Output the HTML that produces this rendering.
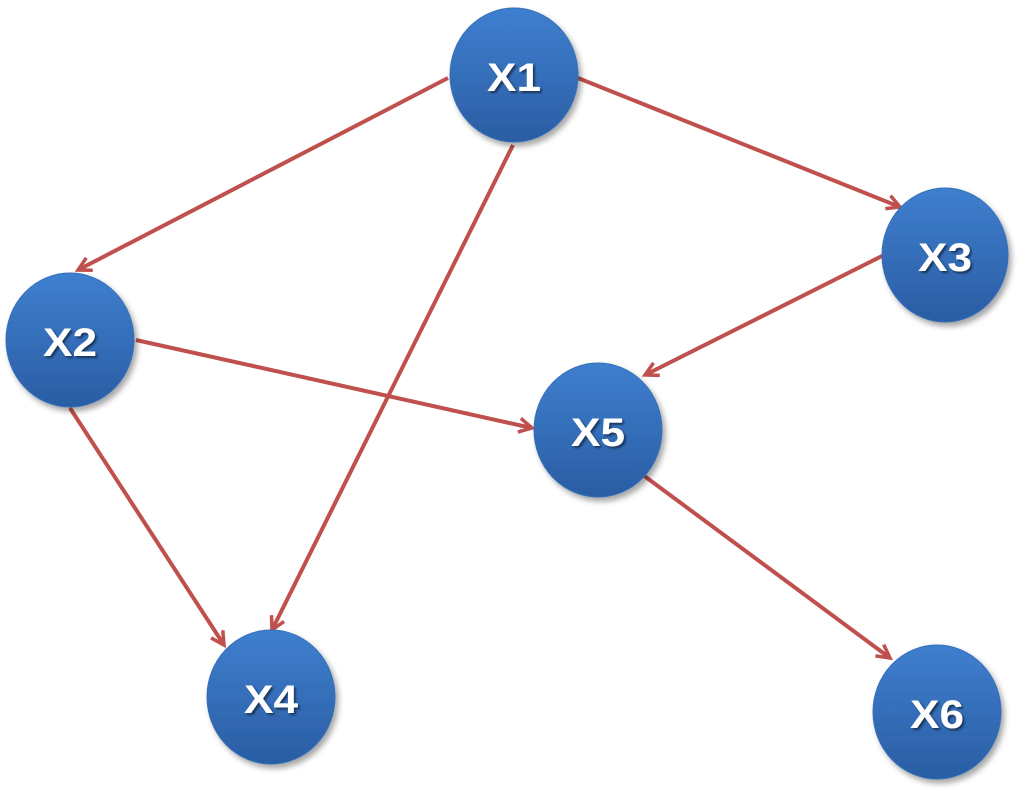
<!DOCTYPE html>
<html><head><style>
html,body{margin:0;padding:0;background:#fff;width:1024px;height:791px;overflow:hidden}
text{font-family:"Liberation Sans",sans-serif;font-weight:bold;font-size:40px;fill:#fff}
</style></head><body>
<svg width="1024" height="791" viewBox="0 0 1024 791">
<defs>
<linearGradient id="g" x1="0" y1="0" x2="0" y2="1">
<stop offset="0" stop-color="#3f7fcf"/><stop offset="1" stop-color="#2a5da3"/>
</linearGradient>
<filter id="s" x="-20%" y="-20%" width="150%" height="150%"><feDropShadow dx="3" dy="4" stdDeviation="3" flood-color="#000" flood-opacity="0.35"/></filter>
<filter id="ts"><feDropShadow dx="2" dy="2" stdDeviation="1" flood-color="#000" flood-opacity="0.5"/></filter>
<marker id="a" markerWidth="20" markerHeight="20" refX="16" refY="10" orient="auto" markerUnits="userSpaceOnUse">
<path d="M3,3 L16,10 L3,17" fill="none" stroke="#c0504d" stroke-width="3.5"/>
</marker>
</defs>
<g stroke="#c0504d" stroke-width="4" fill="none" marker-end="url(#a)">
<line x1="448" y1="78" x2="78" y2="270"/>
<line x1="513" y1="145" x2="272" y2="630"/>
<line x1="578" y1="78" x2="900" y2="207"/>
<line x1="884" y1="255" x2="645" y2="375"/>
<line x1="136" y1="340" x2="532" y2="428"/>
<line x1="70" y1="408" x2="224" y2="645"/>
<line x1="643" y1="475" x2="890" y2="658"/>
</g>
<g fill="url(#g)" stroke="#3670b8" stroke-width="1" filter="url(#s)">
<ellipse cx="514" cy="75" rx="64" ry="67"/>
<ellipse cx="70" cy="340" rx="64" ry="67"/>
<ellipse cx="945" cy="255" rx="63" ry="67"/>
<ellipse cx="598" cy="430" rx="64" ry="67"/>
<ellipse cx="271" cy="697" rx="64" ry="67"/>
<ellipse cx="937" cy="712" rx="64" ry="67"/>
</g>
<g text-anchor="middle" filter="url(#ts)">
<text x="514" y="91" textLength="54" lengthAdjust="spacingAndGlyphs">X1</text>
<text x="70" y="356" textLength="54" lengthAdjust="spacingAndGlyphs">X2</text>
<text x="945" y="271" textLength="54" lengthAdjust="spacingAndGlyphs">X3</text>
<text x="598" y="446" textLength="54" lengthAdjust="spacingAndGlyphs">X5</text>
<text x="271" y="713" textLength="54" lengthAdjust="spacingAndGlyphs">X4</text>
<text x="937" y="728" textLength="54" lengthAdjust="spacingAndGlyphs">X6</text>
</g>
</svg>
</body></html>
